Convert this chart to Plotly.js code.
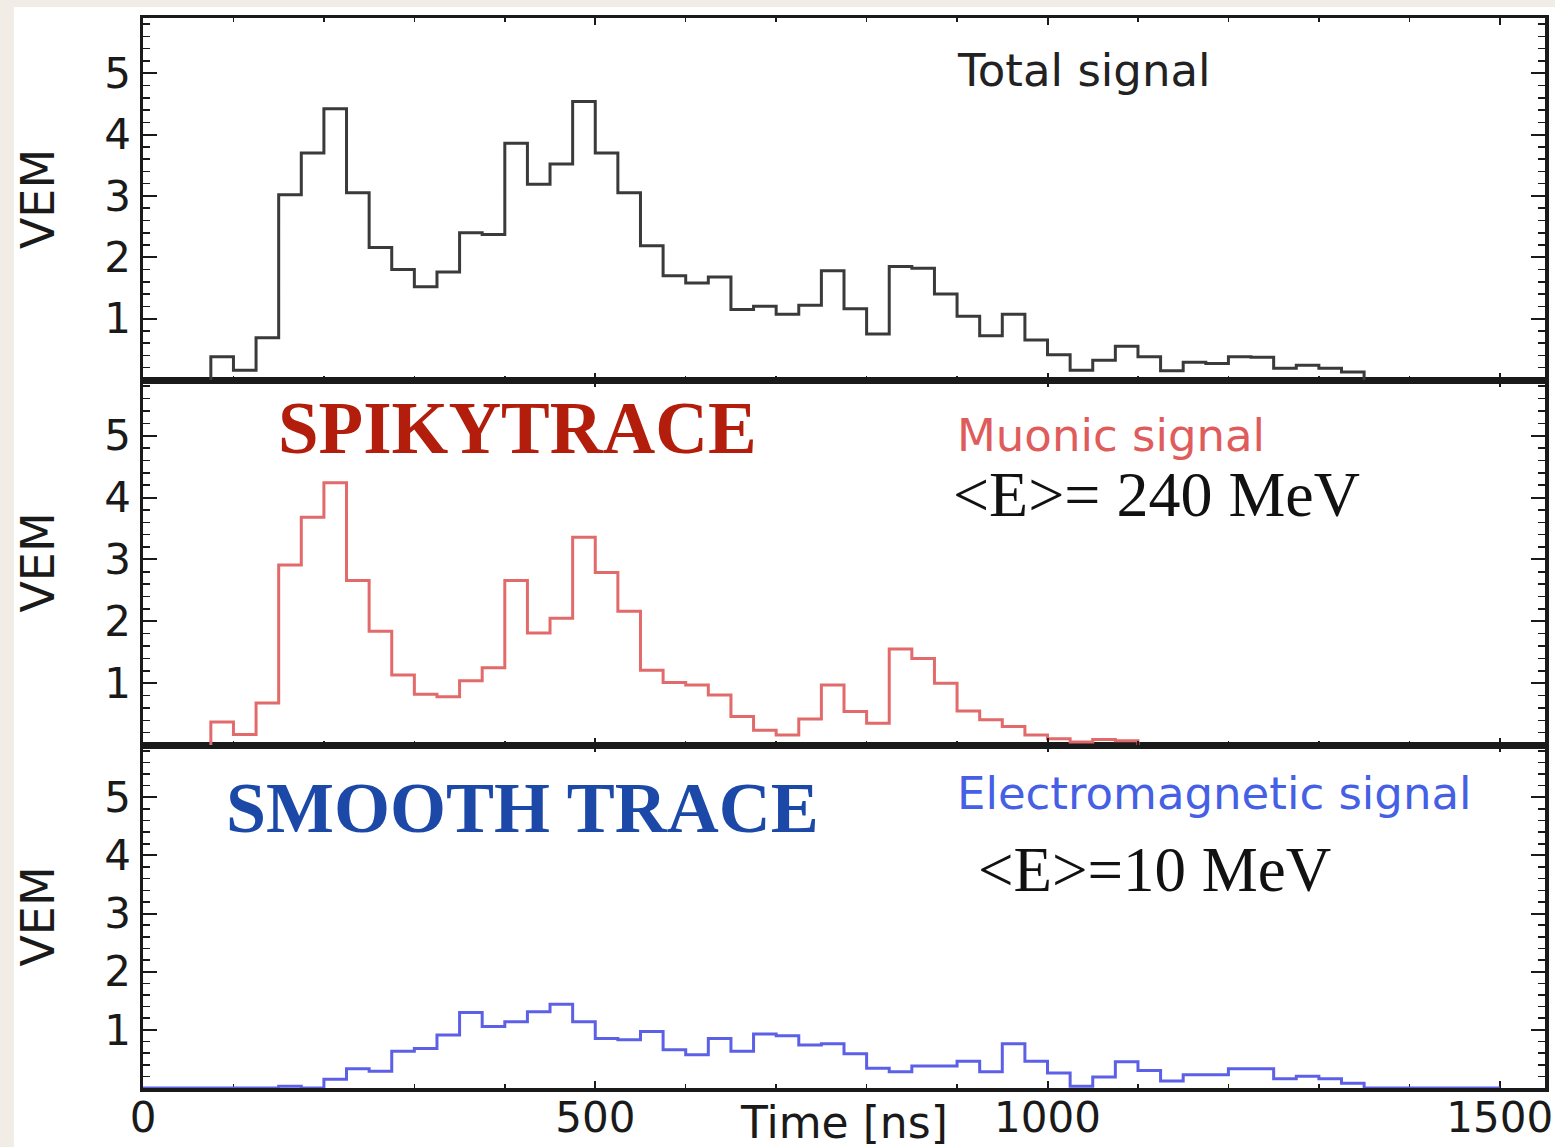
<!DOCTYPE html>
<html>
<head>
<meta charset="utf-8">
<script src="https://cdn.plot.ly/plotly-3.0.1.min.js"></script>
<style>
  html, body { margin: 0; padding: 0; background: #f1ede6; }
  #plot { width: 1555px; height: 1147px; }
</style>
</head>
<body>
<div id="plot"></div>
<script>
// left edges of the 25 ns bins
const BIN_NS = 25;
const TIME_NS = [
  0, 25, 50, 75, 100, 125, 150, 175, 200, 225,
  250, 275, 300, 325, 350, 375, 400, 425, 450, 475,
  500, 525, 550, 575, 600, 625, 650, 675, 700, 725,
  750, 775, 800, 825, 850, 875, 900, 925, 950, 975,
  1000, 1025, 1050, 1075, 1100, 1125, 1150, 1175, 1200, 1225,
  1250, 1275, 1300, 1325, 1350, 1375, 1400, 1425, 1450, 1475
];

// VEM per bin
const TOTAL = [
  0, 0, 0, 0.38, 0.16, 0.69, 3.02, 3.70, 4.42, 3.05,
  2.16, 1.80, 1.52, 1.76, 2.40, 2.37, 3.86, 3.19, 3.52, 4.54,
  3.70, 3.05, 2.19, 1.70, 1.58, 1.68, 1.15, 1.20, 1.07, 1.22,
  1.78, 1.16, 0.75, 1.85, 1.82, 1.40, 1.04, 0.72, 1.07, 0.65,
  0.41, 0.16, 0.32, 0.55, 0.38, 0.15, 0.29, 0.27, 0.38, 0.37,
  0.19, 0.24, 0.19, 0.13, 0, 0, 0, 0, 0, 0
];
const MUON = [
  0, 0, 0, 0.37, 0.17, 0.68, 2.91, 3.68, 4.24, 2.66,
  1.84, 1.13, 0.82, 0.78, 1.04, 1.25, 2.66, 1.81, 2.05, 3.36,
  2.79, 2.16, 1.21, 1.01, 0.97, 0.81, 0.46, 0.24, 0.16, 0.42,
  0.97, 0.54, 0.35, 1.55, 1.40, 1.00, 0.55, 0.41, 0.30, 0.16,
  0.10, 0.05, 0.09, 0.07, 0, 0, 0, 0, 0, 0,
  0, 0, 0, 0, 0, 0, 0, 0, 0, 0
];
const EM = [
  0, 0, 0, 0, 0, 0, 0.03, 0, 0.15, 0.33,
  0.29, 0.63, 0.68, 0.91, 1.30, 1.06, 1.14, 1.31, 1.44, 1.14,
  0.85, 0.83, 0.97, 0.66, 0.57, 0.85, 0.63, 0.93, 0.90, 0.74,
  0.76, 0.59, 0.34, 0.28, 0.38, 0.38, 0.46, 0.28, 0.76, 0.46,
  0.26, 0.03, 0.19, 0.45, 0.30, 0.12, 0.23, 0.23, 0.33, 0.33,
  0.16, 0.20, 0.16, 0.08, 0, 0, 0, 0, 0, 0
];

const X_TICKS = [0, 500, 1000, 1500];
const Y_TICKS = [1, 2, 3, 4, 5];

// page geometry (px) -> paper coords
const W = 1555, H = 1147;
const M = { l: 143, r: 10, t: 18, b: 59 };
const PW = W - M.l - M.r, PH = H - M.t - M.b;
const px = (x) => (x - M.l) / PW;
const py = (y) => (H - M.b - y) / PH;

const SANS = "DejaVu Sans, Arial, sans-serif";
const SERIF = "Liberation Serif, Times New Roman, serif";
const INK = "#1a1a1a";

// histogram as a step line; trim drops the empty bins at both ends
function stepTrace(vals, color, xa, ya, trim) {
  let a = 0, b = vals.length - 1;
  if (trim) {
    while (a < b && vals[a] === 0) a++;
    while (b > a && vals[b] === 0) b--;
  }
  const x = [TIME_NS[a]], y = [0];
  for (let i = a; i <= b; i++) {
    x.push(TIME_NS[i]);
    y.push(vals[i]);
  }
  x.push(TIME_NS[b] + BIN_NS);
  y.push(trim ? 0 : vals[b]);
  return {
    type: "scatter",
    mode: "lines",
    x, y,
    line: { shape: "hv", color, width: 3 },
    xaxis: xa, yaxis: ya,
    hoverinfo: "skip"
  };
}

const traces = [
  stepTrace(TOTAL, "#3a3a3a", "x3", "y3", true),
  stepTrace(MUON, "#e26a6a", "x2", "y2", true),
  stepTrace(EM, "#5c60e6", "x", "y", false)
];

function xAxis(anchor, labels, layer) {
  return {
    anchor,
    domain: [0, 1],
    range: [0, 1550],
    tickvals: X_TICKS,
    showticklabels: labels,
    ticklabelstandoff: -10,
    ticks: "inside",
    ticklen: 7,
    tickwidth: 2,
    tickcolor: INK,
    minor: { dtick: 100, tick0: 0, ticks: "inside", ticklen: 4, tickwidth: 1.5, tickcolor: INK },
    showline: true,
    linecolor: INK,
    linewidth: 3.5,
    mirror: "ticks",
    showgrid: false,
    zeroline: false,
    layer,
    tickfont: { family: SANS, size: 42, color: INK },
    fixedrange: true
  };
}

function yAxis(anchor, domain) {
  return {
    anchor,
    domain,
    range: [0, 5.9],
    tickvals: Y_TICKS,
    ticks: "inside",
    ticklen: 14,
    tickwidth: 2,
    tickcolor: INK,
    minor: { dtick: 0.2, tick0: 0, ticks: "inside", ticklen: 7, tickwidth: 1.5, tickcolor: INK },
    showline: true,
    linecolor: INK,
    linewidth: 3.5,
    mirror: "ticks",
    showgrid: false,
    zeroline: false,
    tickfont: { family: SANS, size: 42, color: INK },
    title: { text: "VEM", font: { family: SANS, size: 46, color: INK }, standoff: 36 },
    fixedrange: true
  };
}

const splitLow = py(745), splitHigh = py(380);

function note(text, x, y, font, anchor) {
  return {
    xref: "paper", yref: "paper",
    x: px(x), y: py(y),
    xanchor: anchor || "left", yanchor: "middle",
    text, showarrow: false, font
  };
}

const annotations = [
  note("Total signal", 955, 70, { family: SANS, size: 45, color: "#222" }),
  note("Muonic signal", 955, 435, { family: SANS, size: 45, color: "#e05c5c" }),
  note("Electromagnetic signal", 955, 793, { family: SANS, size: 45, color: "#4560e4" }),
  note("&lt;E&gt;= 240 MeV", 951, 494, { family: SERIF, size: 64, color: "#111" }),
  note("&lt;E&gt;=10 MeV", 976, 870, { family: SERIF, size: 63, color: "#111" }),
  note("SPIKYTRACE", 276, 428, { family: SERIF, size: 73, color: "#b31e0c", weight: "bold" }),
  note("SMOOTH TRACE", 224, 808, { family: SERIF, size: 72, color: "#1c49a8", weight: "bold" }),
  note("Time [ns]", 844, 1122, { family: SANS, size: 44, color: INK }, "center")
];

const layout = {
  width: W, height: H,
  margin: M,
  paper_bgcolor: "#f1ede6",
  plot_bgcolor: "rgba(0,0,0,0)",
  showlegend: false,
  xaxis: xAxis("y", true, "below traces"),
  xaxis2: Object.assign(xAxis("y2", false, "above traces"), { matches: "x" }),
  xaxis3: Object.assign(xAxis("y3", false, "above traces"), { matches: "x" }),
  yaxis: yAxis("x", [0, splitLow]),
  yaxis2: yAxis("x2", [splitLow, splitHigh]),
  yaxis3: yAxis("x3", [splitHigh, 1]),
  annotations,
  shapes: [{
    type: "rect", xref: "paper", yref: "paper", layer: "below",
    x0: px(14), x1: px(W), y0: py(H), y1: py(7),
    fillcolor: "#ffffff", line: { width: 0 }
  }]
};

Plotly.newPlot("plot", traces, layout, { staticPlot: true });
</script>
</body>
</html>
